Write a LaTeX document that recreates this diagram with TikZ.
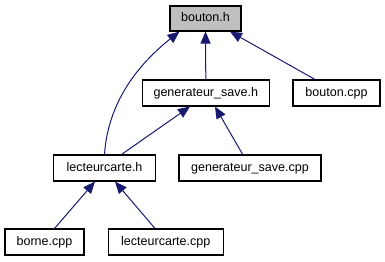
\documentclass[tikz,border=0pt]{standalone}
\usepackage{fontspec}
\setmainfont{Liberation Sans}
\usetikzlibrary{arrows.meta,calc}
\definecolor{edgeblue}{HTML}{191970}
\definecolor{curfill}{HTML}{BFBFBF}
\tikzset{
  file/.style={draw=black, line width=0.8pt, fill=white, inner sep=0pt,
    font=\fontsize{9.4pt}{11pt}\selectfont, text height=7pt, text depth=2pt},
  current/.style={file, fill=curfill},
  dep/.style={draw=edgeblue, line width=0.75pt,
    -{Triangle[length=9pt,width=7.5pt]}, fill=none},
}
\begin{document}
\begin{tikzpicture}[x=0.75pt,y=-0.75pt]
  \useasboundingbox (0,0) rectangle (385,261);
  % files
  \node[current, minimum width=71*0.75pt, minimum height=25*0.75pt] (bh) at (205.5,18.5) {bouton.h};
  \node[file, minimum width=127*0.75pt, minimum height=26*0.75pt] (gh) at (205.8,93) {generateur\_save.h};
  \node[file, minimum width=87*0.75pt, minimum height=26*0.75pt] (bc) at (336.5,93) {bouton.cpp};
  \node[file, minimum width=102*0.75pt, minimum height=26*0.75pt] (lh) at (104.5,168) {lecteurcarte.h};
  \node[file, minimum width=142*0.75pt, minimum height=26*0.75pt] (gc) at (250,168) {generateur\_save.cpp};
  \node[file, minimum width=79*0.75pt, minimum height=26*0.75pt] (borne) at (44.5,242) {borne.cpp};
  \node[file, minimum width=115*0.75pt, minimum height=26*0.75pt] (lc) at (165.8,242) {lecteurcarte.cpp};
  % include dependencies
  \draw[dep] (lh.north) .. controls ($(lh.north)+(3,-45)$) and ($(bh.south)+(-75,39)$) .. ($(bh.south)+(-26,0)$);
  \draw[dep] (gh.north) -- (bh.south);
  \draw[dep] ($(bc.north)+(-21.5,0)$) -- ($(bh.south)+(24.5,0)$);
  \draw[dep] ($(lh.north)+(17,0)$) -- ($(gh.south)+(-15.8,0)$);
  \draw[dep] ($(gc.north)+(-7.3,0)$) -- ($(gh.south)+(9.2,0)$);
  \draw[dep] ($(borne.north)+(10,0)$) -- ($(lh.south)+(-9.5,0)$);
  \draw[dep] ($(lc.north)+(-10.8,0)$) -- ($(lh.south)+(10.5,0)$);
\end{tikzpicture}
\end{document}
